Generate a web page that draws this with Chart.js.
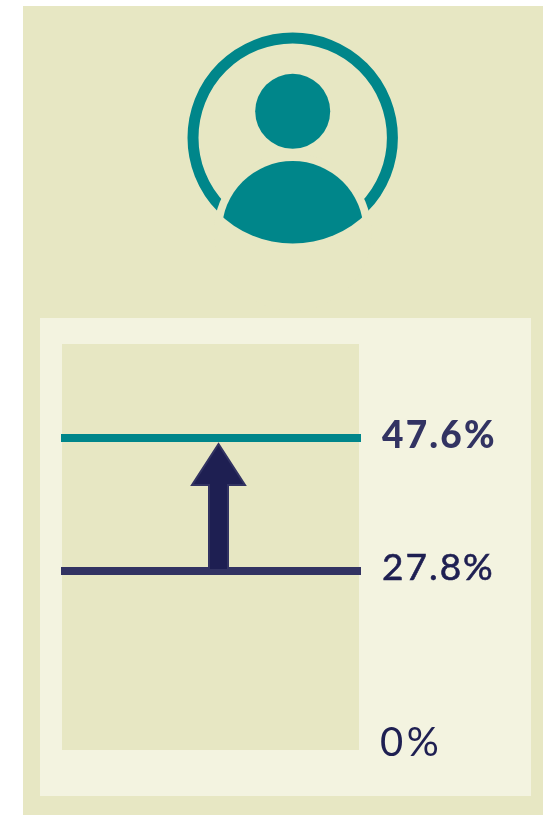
<!DOCTYPE html>
<html><head><meta charset="utf-8">
<script src="https://cdn.jsdelivr.net/npm/chart.js@4"></script>
<style>
html,body{margin:0;padding:0;background:#fff;width:543px;height:815px;overflow:hidden}
.p{position:absolute}
#outer{left:23px;top:6px;width:520px;height:809px;background:#e7e7c3}
#inner{left:40px;top:318px;width:491px;height:478px;background:#f3f3e0}
#plot{left:62px;top:344px;width:297px;height:406px;background:#e7e7c3}
#wrap{position:absolute;left:0;top:0;width:543px;height:815px}
</style></head><body>
<div class="p" id="outer"></div><div class="p" id="inner"></div><div class="p" id="plot"></div>
<div id="wrap"><canvas id="c" width="543" height="815"></canvas></div>
<script>
const categories = ['start', 'end'];
const before = [27.8, 27.8];
const after = [47.6, 47.6];
const tickValues = [47.6, 27.8, 0];
const tickLabels = ['47.6%', '27.8%', '0%'];

const TEAL = '#00868a', NAVY = '#323362', DARK = '#1e1f52', BG = '#e7e7c3';

const iconPlugin = {
  id: 'icon',
  beforeDatasetsDraw(chart) {
    const c = chart.ctx, cx = 292.7, cy = 137.7;
    c.save();
    c.strokeStyle = TEAL; c.lineWidth = 11;
    c.beginPath(); c.arc(cx, cy, 99.7, 0, Math.PI * 2); c.stroke();
    c.fillStyle = BG;
    c.beginPath(); c.arc(cx, 232, 78.8, 0, Math.PI * 2); c.fill();
    c.fillStyle = TEAL;
    c.beginPath(); c.arc(cx, 111.3, 37.5, 0, Math.PI * 2); c.fill();
    c.save();
    c.beginPath(); c.arc(cx, cy, 105.9, 0, Math.PI * 2); c.clip();
    c.beginPath(); c.arc(cx, 232, 71, 0, Math.PI * 2); c.fill();
    c.restore();
    c.restore();
  }
};

const arrowPlugin = {
  id: 'arrow',
  afterDatasetsDraw(chart) {
    const c = chart.ctx, y = chart.scales.y, x = chart.scales.x;
    const xm = x.getPixelForValue(0) + (x.getPixelForValue(1) - x.getPixelForValue(0)) * 0.525;
    const tip = y.getPixelForValue(after[0]) + 6;
    const base = y.getPixelForValue(before[0]) - 1;
    const headY = tip + 41.5;
    c.save();
    c.beginPath();
    c.moveTo(xm, tip);
    c.lineTo(xm + 26.5, headY - 0.5);
    c.lineTo(xm + 9.5, headY - 0.5);
    c.lineTo(xm + 9.5, base);
    c.lineTo(xm - 9.5, base);
    c.lineTo(xm - 9.5, headY - 0.5);
    c.lineTo(xm - 26.5, headY - 0.5);
    c.closePath();
    c.fillStyle = DARK; c.strokeStyle = NAVY; c.lineWidth = 2; c.lineJoin = 'miter';
    c.fill(); c.stroke();
    c.restore();
  }
};

const labelPlugin = {
  id: 'labels',
  afterDraw(chart) {
    const c = chart.ctx, y = chart.scales.y;
    const styles = [
      {x: 382, dy: -2, font: '900 37px Lato', color: NAVY, sp: '2.2px', st: 0},
      {x: 382, dy: -2.5, font: '400 37px Lato', color: DARK, sp: '2px', st: 0.6},
      {x: 380, dy: -14.5, font: '400 40px Lato', color: DARK, sp: '3.5px', st: 0}
    ];
    c.save();
    c.textBaseline = 'middle'; c.textAlign = 'left';
    tickValues.forEach((v, i) => {
      const s = styles[i];
      const py = y.getPixelForValue(v) + s.dy;
      c.font = s.font; c.fillStyle = s.color; c.letterSpacing = s.sp;
      c.fillText(tickLabels[i], s.x, py);
      if (s.st) { c.strokeStyle = s.color; c.lineWidth = s.st; c.strokeText(tickLabels[i], s.x, py); }
    });
    c.restore();
  }
};

new Chart(document.getElementById('c'), {
  type: 'line',
  data: {
    labels: categories,
    datasets: [
      {data: before, borderColor: NAVY, borderWidth: 8, pointRadius: 0, borderCapStyle: 'butt', clip: false},
      {data: after, borderColor: TEAL, borderWidth: 8, pointRadius: 0, borderCapStyle: 'butt', clip: false}
    ]
  },
  options: {
    responsive: false,
    animation: false,
    events: [],
    layout: {padding: {left: 61, right: 182, top: 354.7, bottom: 57.3}},
    plugins: {legend: {display: false}, tooltip: {enabled: false}, title: {display: false}},
    scales: {
      x: {display: false, offset: false},
      y: {display: false, min: 0, max: 60}
    }
  },
  plugins: [iconPlugin, arrowPlugin, labelPlugin]
});
</script>
</body></html>
